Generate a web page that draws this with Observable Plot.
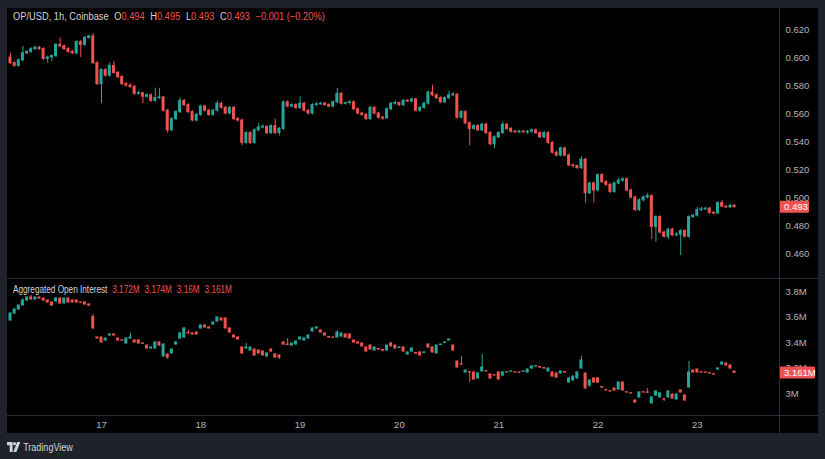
<!DOCTYPE html>
<html><head><meta charset="utf-8">
<script src="https://cdn.jsdelivr.net/npm/d3@7"></script>
<script src="https://cdn.jsdelivr.net/npm/@observablehq/plot@0.6"></script>
<style>
html,body{margin:0;padding:0;background:#1f222a;width:825px;height:459px;overflow:hidden;}
body{font-family:"Liberation Sans",Arial,sans-serif;}
#wrap{position:absolute;left:7px;top:8px;width:811px;height:425px;background:#000;}
#price,#oi{position:absolute;left:0;}
#price{top:0;height:270px;}
#oi{top:271px;height:154px;}
.hline{position:absolute;left:0;width:811px;height:1px;background:#2a2e39;}
.vline{position:absolute;top:0;left:772px;width:1px;height:425px;background:#2a2e39;}
.legend{position:absolute;left:6px;font-size:10px;line-height:12px;color:#d1d4dc;white-space:nowrap;transform-origin:0 0;}
.legend .v{color:#ef5350;}
.legend .g{margin-left:6px;}
#plegend{transform:scaleX(0.93);}
#olegend{transform:scaleX(0.82);}
#logo{position:absolute;left:7px;top:441px;height:12px;display:flex;align-items:center;color:#d1d4dc;font-size:10px;transform:scaleX(0.9);transform-origin:0 0;}
#logo svg{margin-right:3px;}
</style></head>
<body>
<div id="wrap">
  <div id="price"></div>
  <div id="oi"></div>
  <div class="hline" style="top:270px"></div>
  <div class="hline" style="top:407px"></div>
  <div class="vline"></div>
  <div class="legend" id="plegend" style="top:3px"><span>OP/USD, 1h, Coinbase</span><span class="g">O<span class="v">0.494</span></span><span class="g">H<span class="v">0.495</span></span><span class="g">L<span class="v">0.493</span></span><span class="g">C<span class="v">0.493</span></span><span class="g v">−0.001 (−0.20%)</span></div>
  <div class="legend" id="olegend" style="top:276px"><span>Aggregated Open Interest</span><span class="g v">3.172M</span><span class="g v">3.174M</span><span class="g v">3.16M</span><span class="g v">3.161M</span></div>
</div>
<div id="logo"><svg width="15" height="10" viewBox="0 0 15 10"><path d="M0 0h6.2v10H3V3.2H0z" fill="#d1d4dc"/><circle cx="8.4" cy="1.7" r="1.7" fill="#d1d4dc"/><path d="M11.3 0h3.5l-4.4 10H7z" fill="#d1d4dc"/></svg><span>TradingView</span></div>
<script>
// hours relative to day 17, 00:00 of the first candle
const firstHour = -22;
const dayTicks = [0, 24, 48, 72, 96, 120, 144];
const dayLabels = ["17", "18", "19", "20", "21", "22", "23"];
const priceTicks = [0.46, 0.48, 0.50, 0.52, 0.54, 0.56, 0.58, 0.60, 0.62];
const priceTickLabels = ["0.460", "0.480", "0.500", "0.520", "0.540", "0.560", "0.580", "0.600", "0.620"];
const oiTicks = [3.0, 3.2, 3.4, 3.6, 3.8];
const oiTickLabels = ["3M", "3.2M", "3.4M", "3.6M", "3.8M"];
const lastPriceLabel = "0.493";
const lastOiLabel = "3.161M";

const priceOpen = [0.600,0.596,0.594,0.598,0.603,0.604,0.606,0.607,0.606,0.599,
0.600,0.601,0.609,0.608,0.606,0.604,0.603,0.611,0.609,0.614,
0.615,0.596,0.581,0.591,0.587,0.594,0.589,0.586,0.581,0.580,
0.579,0.574,0.5745,0.572,0.573,0.569,0.571,0.5715,0.562,0.548,
0.556,0.561,0.569,0.566,0.561,0.555,0.559,0.565,0.562,0.559,
0.562,0.567,0.564,0.560,0.564,0.556,0.555,0.539,0.546,0.539,
0.548,0.550,0.5505,0.546,0.551,0.546,0.549,0.568,0.565,0.566,
0.564,0.567,0.562,0.560,0.566,0.5665,0.567,0.566,0.565,0.568,
0.574,0.567,0.5675,0.568,0.563,0.560,0.559,0.556,0.564,0.560,
0.557,0.5565,0.563,0.567,0.5675,0.566,0.569,0.5685,0.570,0.562,
0.564,0.567,0.575,0.573,0.571,0.568,0.571,0.573,0.5735,0.557,
0.561,0.553,0.549,0.551,0.548,0.552,0.546,0.538,0.543,0.546,
0.552,0.549,0.547,0.5465,0.547,0.5465,0.547,0.548,0.546,0.543,
0.546,0.539,0.532,0.530,0.535,0.530,0.523,0.5225,0.521,0.527,
0.503,0.510,0.505,0.516,0.511,0.509,0.504,0.510,0.512,0.513,
0.505,0.500,0.491,0.498,0.500,0.501,0.479,0.486,0.475,0.472,
0.477,0.473,0.4735,0.476,0.472,0.486,0.487,0.491,0.4915,0.492,
0.489,0.4885,0.496,0.4935,0.493,0.494];
const priceHigh = [0.603,0.597,0.599,0.608,0.605,0.607,0.608,0.608,0.607,0.601,
0.602,0.610,0.614,0.609,0.607,0.605,0.612,0.612,0.615,0.616,
0.617,0.597,0.592,0.592,0.596,0.597,0.590,0.587,0.582,0.581,
0.580,0.576,0.575,0.574,0.574,0.578,0.578,0.572,0.563,0.557,
0.562,0.571,0.570,0.567,0.562,0.560,0.566,0.566,0.563,0.563,
0.569,0.568,0.565,0.565,0.565,0.557,0.556,0.547,0.547,0.549,
0.553,0.552,0.551,0.552,0.556,0.550,0.569,0.569,0.567,0.567,
0.572,0.568,0.563,0.567,0.568,0.568,0.568,0.567,0.569,0.578,
0.575,0.568,0.569,0.569,0.564,0.561,0.560,0.565,0.565,0.561,
0.558,0.564,0.568,0.569,0.568,0.570,0.570,0.571,0.571,0.565,
0.568,0.576,0.580,0.574,0.572,0.572,0.576,0.575,0.574,0.562,
0.562,0.554,0.552,0.552,0.553,0.553,0.547,0.544,0.547,0.554,
0.553,0.550,0.548,0.548,0.548,0.548,0.549,0.549,0.547,0.547,
0.547,0.540,0.533,0.536,0.536,0.531,0.524,0.523,0.529,0.528,
0.511,0.511,0.517,0.517,0.512,0.510,0.511,0.514,0.514,0.514,
0.506,0.501,0.499,0.501,0.503,0.502,0.487,0.487,0.476,0.478,
0.478,0.475,0.477,0.477,0.487,0.488,0.493,0.493,0.493,0.493,
0.490,0.497,0.498,0.494,0.495,0.495];
const priceLow = [0.595,0.593,0.593,0.597,0.602,0.603,0.605,0.605,0.598,0.596,
0.597,0.600,0.607,0.605,0.603,0.602,0.602,0.600,0.608,0.613,
0.595,0.580,0.567,0.586,0.586,0.588,0.585,0.580,0.579,0.578,
0.573,0.573,0.567,0.571,0.568,0.568,0.570,0.561,0.546,0.547,
0.555,0.560,0.565,0.560,0.554,0.554,0.558,0.561,0.558,0.558,
0.561,0.563,0.559,0.559,0.555,0.554,0.537,0.538,0.538,0.538,
0.547,0.549,0.545,0.545,0.545,0.544,0.548,0.564,0.564,0.563,
0.563,0.561,0.559,0.559,0.565,0.566,0.565,0.564,0.564,0.567,
0.566,0.566,0.566,0.562,0.559,0.558,0.555,0.555,0.559,0.556,
0.555,0.556,0.562,0.566,0.565,0.565,0.568,0.568,0.561,0.561,
0.563,0.566,0.572,0.570,0.567,0.567,0.570,0.572,0.556,0.556,
0.552,0.537,0.548,0.547,0.547,0.545,0.537,0.535,0.542,0.545,
0.548,0.546,0.546,0.546,0.546,0.545,0.546,0.545,0.542,0.542,
0.538,0.531,0.529,0.529,0.529,0.522,0.521,0.520,0.520,0.496,
0.502,0.496,0.504,0.510,0.508,0.503,0.503,0.509,0.511,0.504,
0.499,0.490,0.490,0.497,0.499,0.470,0.468,0.474,0.471,0.470,
0.472,0.472,0.4585,0.471,0.471,0.485,0.486,0.490,0.491,0.488,
0.488,0.488,0.493,0.492,0.492,0.493];
const priceClose = [0.596,0.594,0.598,0.603,0.604,0.606,0.607,0.606,0.599,0.600,
0.601,0.609,0.608,0.606,0.604,0.603,0.611,0.609,0.614,0.615,
0.596,0.581,0.591,0.587,0.594,0.589,0.586,0.581,0.580,0.579,
0.574,0.5745,0.572,0.573,0.569,0.571,0.5715,0.562,0.548,0.556,
0.561,0.569,0.566,0.561,0.555,0.559,0.565,0.562,0.559,0.562,
0.567,0.564,0.560,0.564,0.556,0.555,0.539,0.546,0.539,0.548,
0.550,0.5505,0.546,0.551,0.546,0.549,0.568,0.565,0.566,0.564,
0.567,0.562,0.560,0.566,0.5665,0.567,0.566,0.565,0.568,0.574,
0.567,0.5675,0.568,0.563,0.560,0.559,0.556,0.564,0.560,0.557,
0.5565,0.563,0.567,0.5675,0.566,0.569,0.5685,0.570,0.562,0.564,
0.567,0.575,0.573,0.571,0.568,0.571,0.573,0.5735,0.557,0.561,
0.553,0.549,0.551,0.548,0.552,0.546,0.538,0.543,0.546,0.552,
0.549,0.547,0.5465,0.547,0.5465,0.547,0.548,0.546,0.543,0.546,
0.539,0.532,0.530,0.535,0.530,0.523,0.5225,0.521,0.527,0.503,
0.510,0.505,0.516,0.511,0.509,0.504,0.510,0.512,0.513,0.505,
0.500,0.491,0.498,0.500,0.501,0.479,0.486,0.475,0.472,0.477,
0.473,0.4735,0.476,0.472,0.486,0.487,0.491,0.4915,0.492,0.489,
0.4885,0.496,0.4935,0.493,0.494,0.493];

const oiOpen = [3.573,3.627,3.659,3.690,3.729,3.753,3.737,3.753,3.745,3.729,
3.714,3.722,3.745,3.706,3.745,3.729,3.729,3.714,3.714,3.698,
3.600,3.439,3.439,3.416,3.455,3.463,3.431,3.416,3.392,3.431,
3.416,3.416,3.392,3.376,3.353,3.353,3.400,3.290,3.306,3.314,
3.384,3.431,3.439,3.475,3.471,3.478,3.510,3.533,3.518,3.541,
3.565,3.588,3.588,3.510,3.455,3.439,3.361,3.353,3.337,3.345,
3.337,3.329,3.290,3.345,3.306,3.298,3.400,3.384,3.376,3.384,
3.424,3.416,3.431,3.486,3.510,3.494,3.471,3.443,3.439,3.439,
3.447,3.463,3.463,3.416,3.400,3.392,3.361,3.376,3.337,3.349,
3.341,3.337,3.392,3.376,3.357,3.361,3.306,3.329,3.318,3.322,
3.318,3.384,3.361,3.314,3.380,3.396,3.416,3.376,3.251,3.229,
3.165,3.167,3.165,3.118,3.173,3.175,3.149,3.143,3.165,3.141,
3.165,3.171,3.167,3.165,3.170,3.165,3.196,3.212,3.208,3.200,
3.173,3.165,3.157,3.157,3.169,3.086,3.102,3.118,3.196,3.157,
3.063,3.118,3.118,3.051,3.026,3.018,3.039,3.031,3.086,3.010,
3.002,2.945,2.969,3.010,3.008,2.922,2.984,2.969,2.955,2.969,
2.992,2.953,3.024,2.984,3.047,3.180,3.188,3.167,3.165,3.159,
3.151,3.188,3.227,3.235,3.220,3.172];
const oiHigh = [3.631,3.663,3.694,3.745,3.757,3.769,3.757,3.757,3.749,3.733,
3.718,3.749,3.749,3.749,3.749,3.733,3.733,3.718,3.718,3.702,
3.620,3.443,3.443,3.435,3.467,3.467,3.435,3.420,3.435,3.471,
3.420,3.420,3.396,3.380,3.365,3.404,3.404,3.388,3.310,3.349,
3.404,3.475,3.514,3.494,3.475,3.482,3.537,3.537,3.522,3.561,
3.600,3.592,3.592,3.514,3.459,3.443,3.365,3.392,3.365,3.349,
3.341,3.333,3.318,3.349,3.310,3.302,3.404,3.431,3.396,3.412,
3.443,3.435,3.459,3.514,3.522,3.498,3.475,3.447,3.443,3.494,
3.475,3.467,3.467,3.420,3.404,3.396,3.365,3.380,3.365,3.353,
3.345,3.380,3.400,3.380,3.365,3.365,3.326,3.357,3.322,3.326,
3.326,3.388,3.365,3.380,3.388,3.404,3.428,3.380,3.255,3.290,
3.184,3.171,3.169,3.161,3.306,3.179,3.153,3.147,3.169,3.169,
3.171,3.177,3.171,3.169,3.177,3.192,3.216,3.218,3.212,3.204,
3.200,3.169,3.161,3.177,3.173,3.122,3.137,3.169,3.290,3.161,
3.106,3.122,3.122,3.055,3.030,3.022,3.043,3.090,3.090,3.014,
3.006,2.949,3.012,3.014,3.039,2.973,3.020,3.004,2.959,3.020,
2.996,2.996,3.028,2.988,3.251,3.184,3.192,3.171,3.169,3.163,
3.155,3.200,3.247,3.239,3.224,3.174];
const oiLow = [3.569,3.623,3.655,3.686,3.725,3.733,3.733,3.741,3.725,3.710,
3.682,3.718,3.702,3.702,3.710,3.710,3.710,3.706,3.694,3.682,
3.506,3.427,3.396,3.412,3.451,3.451,3.412,3.410,3.388,3.427,
3.396,3.388,3.384,3.349,3.349,3.349,3.372,3.286,3.267,3.310,
3.380,3.427,3.435,3.467,3.459,3.459,3.506,3.514,3.506,3.537,
3.561,3.569,3.506,3.474,3.435,3.420,3.306,3.349,3.333,3.294,
3.310,3.294,3.286,3.325,3.278,3.267,3.380,3.376,3.372,3.380,
3.420,3.412,3.427,3.482,3.506,3.474,3.451,3.435,3.433,3.435,
3.443,3.435,3.427,3.396,3.388,3.365,3.325,3.341,3.333,3.341,
3.325,3.333,3.365,3.349,3.353,3.325,3.302,3.325,3.306,3.294,
3.314,3.357,3.318,3.310,3.376,3.392,3.412,3.333,3.200,3.223,
3.161,3.086,3.106,3.114,3.169,3.169,3.114,3.137,3.106,3.137,
3.161,3.167,3.161,3.159,3.166,3.161,3.192,3.208,3.200,3.192,
3.169,3.129,3.121,3.153,3.161,3.082,3.098,3.114,3.192,3.035,
3.047,3.082,3.082,3.043,3.020,3.012,3.020,3.027,3.020,3.004,
2.996,2.925,2.965,3.004,3.002,2.918,2.980,2.965,2.937,2.965,
2.957,2.949,3.004,2.941,3.043,3.161,3.161,3.161,3.159,3.153,
3.145,3.184,3.223,3.216,3.192,3.160];
const oiClose = [3.627,3.659,3.690,3.729,3.753,3.737,3.753,3.745,3.729,3.714,
3.690,3.745,3.706,3.745,3.714,3.714,3.714,3.712,3.698,3.690,
3.510,3.431,3.400,3.431,3.463,3.455,3.416,3.414,3.431,3.439,
3.400,3.392,3.390,3.353,3.361,3.400,3.376,3.384,3.282,3.345,
3.400,3.471,3.510,3.471,3.463,3.463,3.533,3.518,3.510,3.557,
3.596,3.573,3.510,3.478,3.439,3.424,3.314,3.361,3.361,3.298,
3.314,3.298,3.314,3.329,3.282,3.282,3.384,3.380,3.392,3.408,
3.439,3.431,3.455,3.510,3.518,3.478,3.455,3.439,3.437,3.478,
3.471,3.439,3.431,3.400,3.392,3.369,3.329,3.345,3.361,3.345,
3.337,3.376,3.369,3.353,3.361,3.329,3.322,3.353,3.314,3.298,
3.322,3.361,3.322,3.376,3.384,3.400,3.424,3.337,3.204,3.227,
3.180,3.165,3.110,3.157,3.204,3.173,3.118,3.141,3.110,3.165,
3.167,3.173,3.165,3.163,3.173,3.188,3.212,3.214,3.204,3.196,
3.196,3.133,3.125,3.173,3.165,3.118,3.133,3.165,3.259,3.039,
3.102,3.086,3.086,3.047,3.024,3.016,3.024,3.086,3.024,3.008,
3.000,2.929,3.008,3.008,3.006,2.969,3.016,3.000,2.953,3.016,
2.961,2.992,3.008,2.945,3.165,3.165,3.165,3.165,3.163,3.157,
3.149,3.196,3.243,3.220,3.196,3.161];

const UP = "#26a69a", DOWN = "#ef5350";
const FONT = '"Liberation Sans",Arial,sans-serif';
const xDomain = [-22.72, 163.87];
const W = 811, MR = 39;

function rows(o, h, l, c) {
  return c.map((v, i) => ({t: firstHour + i, o: o[i], h: h[i], l: l[i], c: v, col: v >= o[i] ? UP : DOWN}));
}
const priceData = rows(priceOpen, priceHigh, priceLow, priceClose);
const oiData = rows(oiOpen, oiHigh, oiLow, oiClose);

function candles(data) {
  return [
    Plot.ruleX(data, {x: "t", y1: "l", y2: "h", stroke: "col", strokeWidth: 1}),
    Plot.rect(data, {x1: "t", x2: "t", y1: "o", y2: "c", fill: "col",
      insetLeft: -1.5, insetRight: -1.5, insetTop: -0.5, insetBottom: -0.5})
  ];
}
const priceLabelMap = new Map(priceTicks.map((t, i) => [t, priceTickLabels[i]]));
const oiLabelMap = new Map(oiTicks.map((t, i) => [t, oiTickLabels[i]]));
const dayLabelMap = new Map(dayTicks.map((t, i) => [t, dayLabels[i]]));
const style = {background: "#000", color: "#b2b5be", fontSize: "9.5px", fontFamily: FONT, overflow: "visible"};

const pricePlot = Plot.plot({
  width: W, height: 270, marginLeft: 0, marginRight: MR, marginTop: 0, marginBottom: 0,
  x: {domain: xDomain, axis: null},
  y: {domain: [0.44214, 0.635]},
  color: {type: "identity"},
  style,
  marks: [
    Plot.axisY({anchor: "right", ticks: priceTicks, tickSize: 0, tickPadding: 6, label: null, tickFormat: d => priceLabelMap.get(d), fill: "#b2b5be"}),
    ...candles(priceData)
  ]
});
document.getElementById("price").appendChild(pricePlot);

const oiPlot = Plot.plot({
  width: W, height: 154, marginLeft: 0, marginRight: MR, marginTop: 0, marginBottom: 18,
  x: {domain: xDomain},
  y: {domain: [2.8275, 3.8941]},
  color: {type: "identity"},
  style,
  marks: [
    Plot.axisX({ticks: dayTicks, tickSize: 0, tickPadding: 6, label: null, tickFormat: d => dayLabelMap.get(d), fill: "#b2b5be"}),
    Plot.axisY({anchor: "right", ticks: oiTicks, tickSize: 0, tickPadding: 6, label: null, tickFormat: d => oiLabelMap.get(d), fill: "#b2b5be"}),
    ...candles(oiData)
  ]
});
document.getElementById("oi").appendChild(oiPlot);

function lastLabel(chart, value, text, boxW) {
  const y = chart.scale("y").apply(value);
  const x0 = chart.scale("x").range[1];
  const g = d3.select(chart).append("g");
  g.append("rect").attr("x", x0).attr("y", y - 6).attr("width", boxW).attr("height", 12).attr("rx", 1).attr("fill", DOWN);
  g.append("text").attr("x", x0 + 5).attr("y", y).attr("dy", "0.35em").attr("fill", "#fff")
    .attr("text-anchor", "start").attr("font-size", 9.5).attr("font-family", FONT).text(text);
}
lastLabel(pricePlot, priceClose[priceClose.length - 1], lastPriceLabel, 30);
lastLabel(oiPlot, oiClose[oiClose.length - 1], lastOiLabel, 36);
</script>
</body></html>
